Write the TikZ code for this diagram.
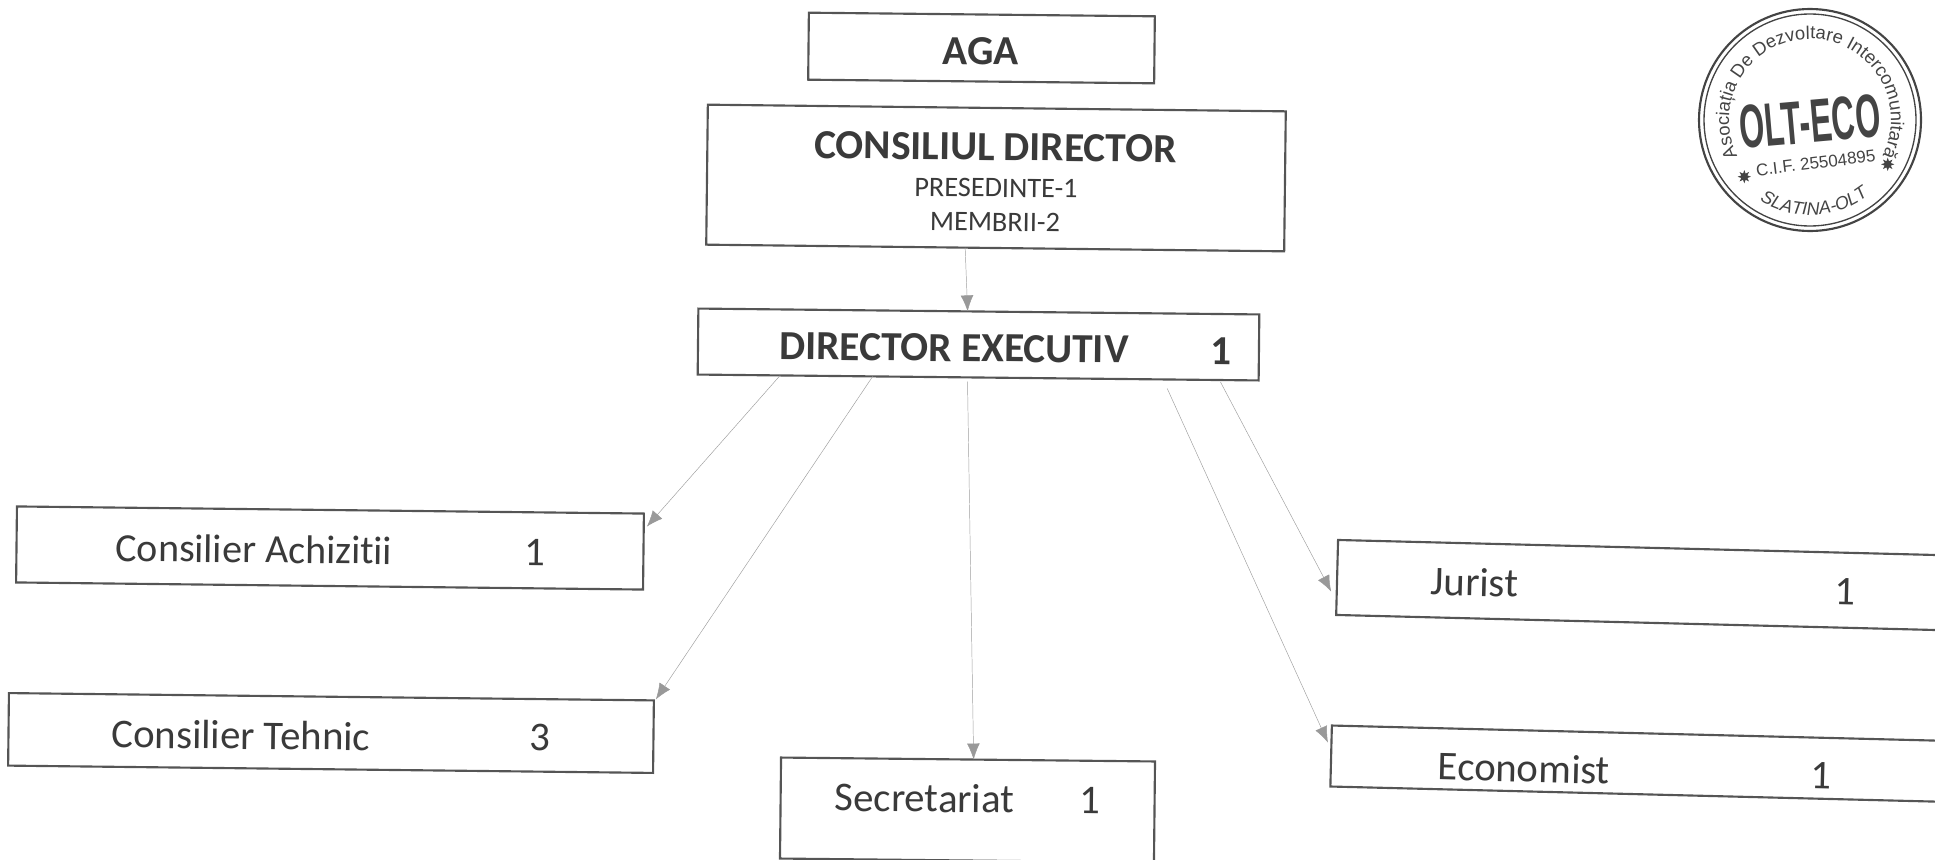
\documentclass[tikz,border=0pt]{standalone}
\usepackage{fontspec}
\setmainfont[Ligatures=NoCommon]{Carlito}
\newfontfamily\stampfont{Liberation Sans}
\usepackage{tikz}
\usetikzlibrary{calc}
\usetikzlibrary{arrows.meta}
\usetikzlibrary{decorations.text}
\usetikzlibrary{shapes.geometric}
\definecolor{inkgrey}{HTML}{3A3A3A}
\definecolor{framegrey}{HTML}{555555}
\definecolor{stampgrey}{HTML}{444444}
\tikzset{
    rectbox/.style={draw=framegrey,line width=1.6pt,inner sep=0pt,outer sep=0pt},
    headtext/.style={text=inkgrey,inner sep=0.75pt,font=\bfseries\fontsize{31}{36}\selectfont},
    bodytext/.style={text=inkgrey,inner sep=0.75pt,font=\fontsize{30.6}{36}\selectfont},
    smalltext/.style={text=inkgrey,inner sep=0.75pt,font=\fontsize{21.2}{25}\selectfont},
    linkarrow/.style={draw=black!38,line width=0.35pt,-{Latex[length=12pt,width=9.5pt,color=black!40]}},
    stamptext/.style={text=stampgrey,inner sep=0pt},
    stampstar/.style={star,star points=8,star point ratio=2,fill=stampgrey,inner sep=0pt,minimum size=10pt},
}

\begin{document}
\begin{tikzpicture}[x=0.75pt,y=0.75pt,yscale=-1]
        \useasboundingbox (0,0) rectangle (1935,860);

        % Boxes
        \draw (981.5,48) node (aga) [rectbox,rotate=-0.6,minimum width=259.5pt,minimum height=50.25pt]{};
        \draw (996,178) node (consiliu) [rectbox,rotate=-0.66,minimum width=433.5pt,minimum height=105pt]{};
        \draw (978.5,344.5) node (director) [rectbox,rotate=-0.6,minimum width=420.75pt,minimum height=49.5pt]{};
        \draw (330,548) node (achizitii) [rectbox,rotate=-0.65,minimum width=470.25pt,minimum height=57pt]{};
        \draw (331,733) node (tehnic) [rectbox,rotate=-0.65,minimum width=483.75pt,minimum height=54.4pt]{};
        \draw (967.5,810) node (secretariat) [rectbox,rotate=-0.6,minimum width=280.5pt,minimum height=75.75pt]{};
        \draw (1657,585.5) node (jurist) [rectbox,rotate=-1.44,minimum width=480pt,minimum height=56.25pt]{};
        \draw (1651,764) node (economist) [rectbox,rotate=-1.43,minimum width=480pt,minimum height=45.75pt]{};

        % Straight Lines
        \draw [linkarrow] ($(consiliu.south west)!.448!(consiliu.south east)$) -- ($(director.north west)!.48!(director.north east)$);
        \draw [linkarrow] ($(director.south west)!.147!(director.south east)$) -- ($(achizitii.north east)+(3,13)$);
        \draw [linkarrow] ($(director.south west)!.312!(director.south east)$) -- ($(tehnic.north east)+(2,-1)$);
        \draw [linkarrow] ($(director.south west)!.481!(director.south east)+(0,4)$) -- ($(secretariat.north west)!.515!(secretariat.north east)$);
        \draw [linkarrow] ($(director.south west)!.837!(director.south east)+(0,9)$) -- ($(economist.north west)+(-4,17)$);
        \draw [linkarrow] ($(director.south west)!.932!(director.south east)+(0,2)$) -- ($(jurist.west)+(-6,14)$);

        % Text Node
        \draw (981,51) node (agahead) [headtext,rotate=-0.6]{AGA};
        \draw (995.5,147) node (consiliuhead) [headtext,rotate=-0.66]{CONSILIUL DIRECTOR};
        \draw (996,188) node (presedinte) [smalltext,rotate=-0.66]{PRESEDINTE-1};
        \draw (995,222) node (membrii) [smalltext,rotate=-0.66]{MEMBRII-2};
        \draw (954,348) node (directorhead) [headtext,rotate=-0.6]{DIRECTOR EXECUTIV};
        \draw (1221,351) node (directornr) [headtext,rotate=-0.6]{1};
        \draw (254,549) node (achizitiitext) [bodytext,rotate=-0.65,font=\fontsize{30}{36}\selectfont]{Consilier Achizitii};
        \draw (535,552) node (achizitiinr) [bodytext,rotate=-0.65]{1};
        \draw (241,735) node (tehnictext) [bodytext,rotate=-0.65]{Consilier Tehnic};
        \draw (540,737.5) node (tehnicnr) [bodytext,rotate=-0.65]{3};
        \draw (924.6,798) node (secretariattext) [bodytext,rotate=-0.6]{Secretariat};
        \draw (1090,800) node (secretariatnr) [bodytext,rotate=-0.6]{1};
        \draw (1474.5,582) node (juristtext) [bodytext,rotate=-1.44]{Jurist};
        \draw (1845,592) node (juristnr) [bodytext,rotate=-1.44]{1};
        \draw (1524,768) node (economisttext) [bodytext,rotate=-1.43]{Economist};
        \draw (1821,776) node (economistnr) [bodytext,rotate=-1.43]{1};

        % Stamp
        \coordinate (stamp) at (1810,120);
        \draw [stampgrey,line width=1.6pt] (stamp) circle (111);
        \draw [stampgrey,line width=1pt] (stamp) circle (106);
        \begin{scope}[shift={(stamp)},yscale=-1]
            \path [decorate,decoration={text along path,text align=center,
                text={|\stampfont\fontsize{13.8}{14}\selectfont\color{stampgrey}|Asociația De Dezvoltare Intercomunitară}}]
                (214:81) arc (214:-34:81);
            \path [decorate,decoration={text along path,text align=center,
                text={|\stampfont\itshape\fontsize{13.5}{13}\selectfont\color{stampgrey}|SLATINA-OLT}}]
                (234:95) arc (234:312:95);
        \end{scope}
        \draw (1810,121.7) node (stampname) [stamptext,rotate=5]{%
            \scalebox{.525}[1]{\stampfont\bfseries\fontsize{46}{46}\selectfont OLT-ECO}
        };
        \draw (1815.7,163) node (stampcif) [stamptext,rotate=7]{%
            \stampfont\fontsize{12.75}{13}\selectfont C.I.F. 25504895
        };
        \draw (1744.3,176.7) node (starleft) [stampstar]{};
        \draw (1887.7,164.3) node (starright) [stampstar]{};
    \end{tikzpicture}
\end{document}
